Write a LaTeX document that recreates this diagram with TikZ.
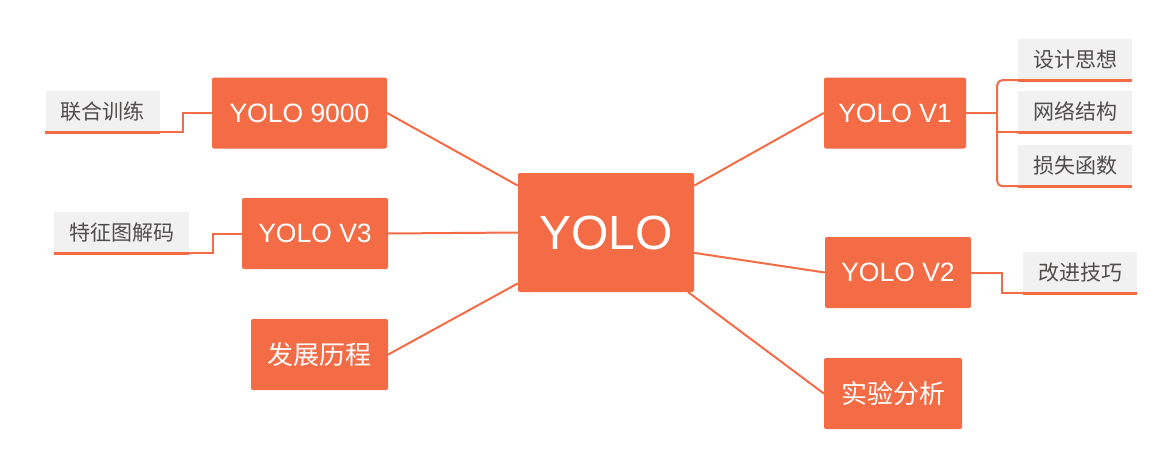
\documentclass[tikz,border=0pt]{standalone}
\usepackage{fontspec}
\setmainfont{Liberation Sans}
\newfontfamily\cjk{Noto Sans CJK SC}
\usepackage{xcolor}
\usetikzlibrary{positioning, calc}

\definecolor{yoloorange}{RGB}{244,108,70}
\definecolor{leafgray}{RGB}{241,241,241}
\definecolor{leaftext}{RGB}{80,76,76}

\begin{document}
\begin{tikzpicture}[
    x=1pt, y=-1pt,
    root/.style={fill=yoloorange, rounded corners=2pt, text=white, minimum width=176pt, minimum height=119pt, font=\fontsize{48}{48}\selectfont},
    branch/.style={fill=yoloorange, rounded corners=2pt, text=white, minimum height=71pt, font=\fontsize{26.5}{26.5}\selectfont},
    leaf/.style={fill=leafgray, text=leaftext, minimum width=114pt, minimum height=41pt, font=\cjk\fontsize{21}{21}\selectfont},
    link/.style={draw=yoloorange, line width=2pt},
    uline/.style={draw=yoloorange, line width=3pt}
]

\useasboundingbox (0,0) rectangle (1164,461);

% Root
\node[root] (yolo) at (606,232.5) {YOLO};

% Branches
\node[branch, minimum width=175pt] (v9000) at (299.5,113) {YOLO 9000};
\node[branch, minimum width=146pt] (v3) at (315,233.5) {YOLO V3};
\node[branch, minimum width=137pt, font=\cjk\fontsize{26}{26}\selectfont] (history) at (319.5,354.5) {发展历程};
\node[branch, minimum width=142pt] (v1) at (895,113) {YOLO V1};
\node[branch, minimum width=146pt] (v2) at (898,272.5) {YOLO V2};
\node[branch, minimum width=138pt, font=\cjk\fontsize{26}{26}\selectfont] (exper) at (893,393.5) {实验分析};

% Leaves
\node[leaf] (joint) at (102.5,111.5) {联合训练};
\node[leaf, minimum width=135pt] (featmap) at (121.5,232.5) {特征图解码};
\node[leaf] (design) at (1075,59.5) {设计思想};
\node[leaf] (network) at (1075,111.5) {网络结构};
\node[leaf] (loss) at (1075,165.5) {损失函数};
\node[leaf] (tricks) at (1080,272.5) {改进技巧};

% Underlines
\foreach \n in {joint, featmap, design, network, loss, tricks}
    \draw[uline] (\n.south west) -- (\n.south east);

% Root links
\draw[link] (v9000.east) -- (yolo.152);
\draw[link] (v3.east) -- (yolo.west);
\draw[link] (history.east) -- (yolo.210);
\draw[link] (v1.west) -- (yolo.28);
\draw[link] (v2.west) -- (yolo.347);
\draw[link] (exper.west) -- (yolo.324);

% Leaf links
\draw[link] (v9000.west) -- ++(-29,0) |- (joint.south east);
\draw[link] (v3.west) -- ++(-29,0) |- (featmap.south east);
\draw[link] (v2.east) -- ++(31,0) |- (tricks.south west);
\draw[link] (v1.east) -- ++(31,0) coordinate (fork);
\draw[link, rounded corners=5pt] (design.south west) -| (fork) |- (loss.south west);
\draw[link] (fork |- network.south) -- (network.south west);

\end{tikzpicture}
\end{document}
